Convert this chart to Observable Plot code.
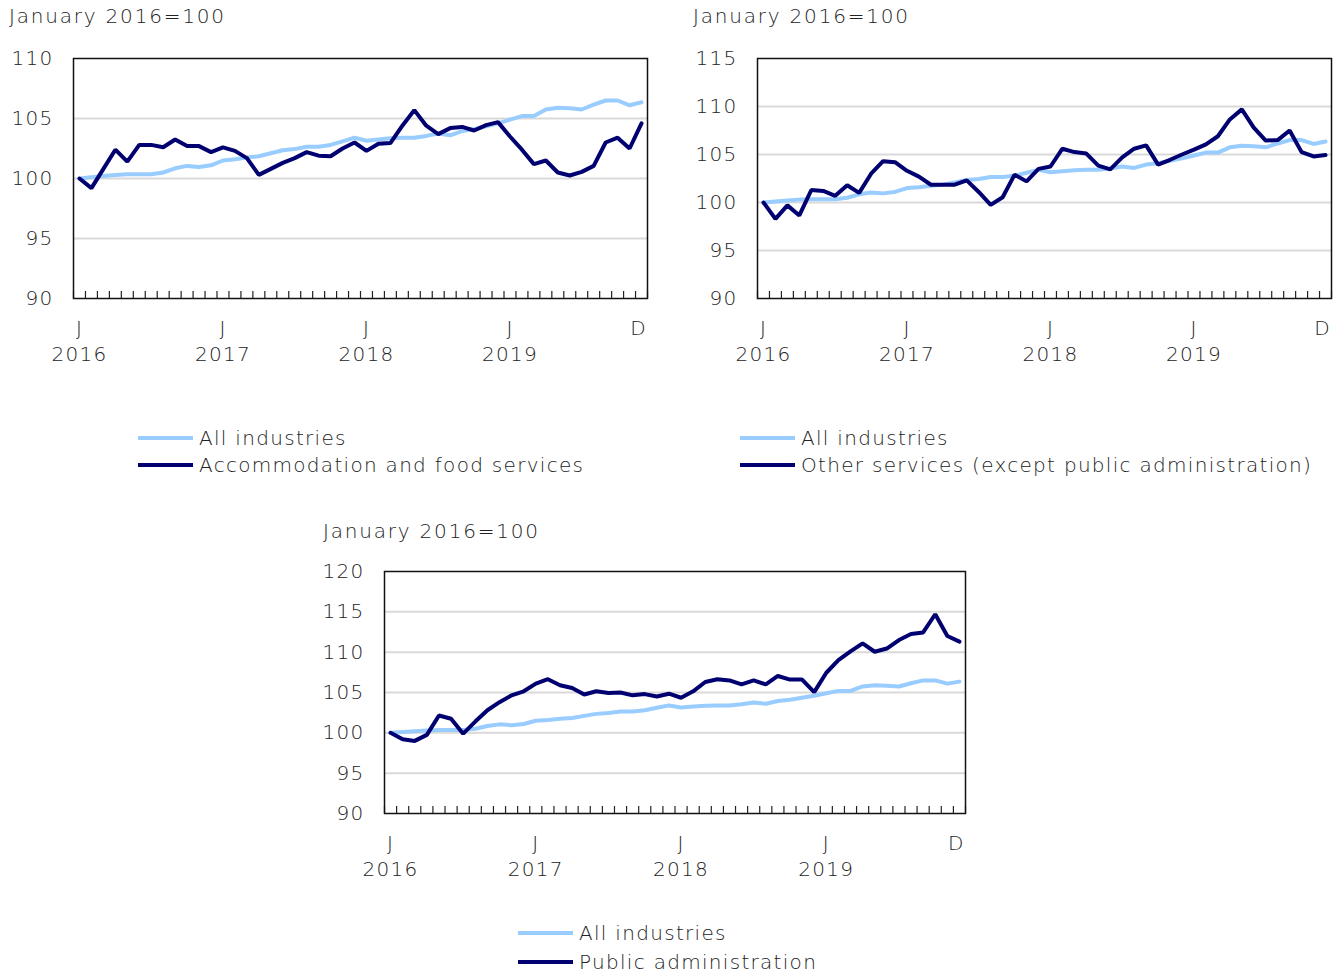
<!DOCTYPE html>
<html>
<head>
<meta charset="utf-8">
<script src="https://cdn.jsdelivr.net/npm/d3@7"></script>
<script src="https://cdn.jsdelivr.net/npm/@observablehq/plot@0.6"></script>
<style>
  html, body { margin: 0; padding: 0; background: #fff; }
  #page { position: relative; width: 1341px; height: 977px; overflow: hidden;
          font-family: "DejaVu Sans", sans-serif; font-weight: 200; color: #222; letter-spacing: 1.3px; }
  .title { position: absolute; font-size: 20px; line-height: 24px; white-space: nowrap; letter-spacing: 1.8px; }
  .chart { position: absolute; }
  .legend { position: absolute; font-size: 20px; white-space: nowrap; }
  .legend .row { display: flex; align-items: center; }
  .legend .sw { display: inline-block; width: 55px; height: 4px; margin-right: 6px; }
</style>
</head>
<body>
<div id="page"></div>
<script>
// ---- Data (monthly, January 2016 to December 2019; January 2016 = 100) ----
const monthIndex = d3.range(48);
const allIndustries = [
  100.0, 100.1, 100.2, 100.3, 100.35, 100.35, 100.35, 100.5, 100.85, 101.05, 100.95, 101.1,
  101.5, 101.6, 101.75, 101.85, 102.1, 102.35, 102.45, 102.65, 102.65, 102.8, 103.1, 103.4,
  103.15, 103.25, 103.35, 103.4, 103.4, 103.55, 103.75, 103.6, 103.95, 104.1, 104.35, 104.6,
  104.9, 105.2, 105.2, 105.75, 105.9, 105.85, 105.75, 106.15, 106.5, 106.5, 106.1, 106.35
];
const accommodation = [
  100.0, 99.2, 100.8, 102.4, 101.4, 102.8, 102.8, 102.6, 103.25, 102.7, 102.7, 102.2,
  102.6, 102.3, 101.7, 100.3, 100.8, 101.3, 101.7, 102.2, 101.9, 101.85, 102.5, 103.0,
  102.3, 102.9, 102.95, 104.4, 105.7, 104.4, 103.7, 104.2, 104.3, 104.0, 104.45, 104.7,
  103.5, 102.4, 101.2, 101.5, 100.5, 100.25, 100.55, 101.05, 103.0, 103.4, 102.5, 104.6
];
const otherServices = [
  100.0, 98.3, 99.7, 98.65, 101.3, 101.2, 100.7, 101.8, 101.0, 103.0, 104.3, 104.2,
  103.3, 102.7, 101.85, 101.85, 101.85, 102.3, 101.1, 99.75, 100.55, 102.9, 102.2, 103.5,
  103.75, 105.6, 105.25, 105.1, 103.85, 103.45, 104.7, 105.6, 105.95, 103.95, 104.45, 105.0,
  105.5, 106.05, 106.9, 108.65, 109.7, 107.8, 106.45, 106.5, 107.5, 105.25, 104.8, 104.95
];
const publicAdmin = [
  100.0, 99.2, 99.0, 99.75, 102.15, 101.75, 99.9, 101.4, 102.8, 103.8, 104.65, 105.15,
  106.1, 106.65, 105.9, 105.55, 104.75, 105.15, 104.95, 105.0, 104.65, 104.8, 104.5, 104.85,
  104.35, 105.15, 106.3, 106.65, 106.5, 106.0, 106.5, 106.0, 107.05, 106.6, 106.6, 105.05,
  107.45, 109.0, 110.1, 111.1, 110.05, 110.45, 111.5, 112.25, 112.45, 114.7, 112.0, 111.3
];
const xTickIndex = [0, 12, 24, 36];
const xTickLabels = ["J\n2016", "J\n2017", "J\n2018", "J\n2019"];
const xEndIndex = [47];
const xEndLabel = "D";
const titleText = "January 2016=100";
const allLabel = "All industries";
const seriesLabels = ["Accommodation and food services", "Other services (except public administration)", "Public administration"];
const yTicks1 = [90, 95, 100, 105, 110];
const yTicks2 = [90, 95, 100, 105, 110, 115];
const yTicks3 = [90, 95, 100, 105, 110, 115, 120];

const LIGHT = "#99ccff";
const DARK = "#000070";
const FONT = '"DejaVu Sans", sans-serif';

const page = document.getElementById("page");
const boundaries = d3.range(49).map(d => d - 0.5);
const tickLabelMap = new Map(xTickIndex.map((d, i) => [d, xTickLabels[i]]));

function makeChart(series, yTicks, dims) {
  const lo = yTicks[0], hi = yTicks[yTicks.length - 1];
  const rowsAll = monthIndex.map(i => ({i, v: allIndustries[i]}));
  const rowsS = monthIndex.map(i => ({i, v: series[i]}));
  return Plot.plot({
    width: dims.width,
    height: dims.height,
    marginLeft: dims.ml,
    marginRight: dims.mr,
    marginTop: dims.mt,
    marginBottom: dims.mb,
    x: {domain: [-0.5, 47.5], axis: null},
    y: {domain: [lo, hi], axis: null},
    style: {fontFamily: FONT, fontSize: "20px", fontWeight: 200, color: "#222", background: "white",
            overflow: "visible", letterSpacing: "1.3px"},
    marks: [
      Plot.gridY(yTicks.slice(1, -1), {stroke: "#d9d9d9", strokeOpacity: 1, strokeWidth: 2}),
      Plot.axisY(yTicks, {tickSize: 0, tickPadding: dims.yPad, fontSize: 20, label: null}),
      Plot.axisX(boundaries, {tickSize: -7, tickFormat: () => "", stroke: "#222", strokeWidth: 1.2, label: null}),
      Plot.axisX(xTickIndex, {tickSize: 0, tickPadding: dims.xPad, fontSize: 20, lineHeight: 1.3, label: null,
                              tickFormat: d => tickLabelMap.get(d)}),
      Plot.axisX(xEndIndex, {tickSize: 0, tickPadding: dims.xPad, fontSize: 20, label: null, dx: -3, dy: 4,
                             tickFormat: () => xEndLabel}),
      Plot.line(rowsAll, {x: "i", y: "v", stroke: LIGHT, strokeWidth: 4, strokeLinejoin: "miter"}),
      Plot.line(rowsS, {x: "i", y: "v", stroke: DARK, strokeWidth: 4, strokeLinejoin: "miter"}),
      Plot.frame({stroke: "#111", strokeWidth: 1.5})
    ]
  });
}

function addPanel(p) {
  const t = document.createElement("div");
  t.className = "title";
  t.style.left = p.titleX + "px";
  t.style.top = p.titleY + "px";
  t.textContent = titleText;
  page.appendChild(t);

  const c = document.createElement("div");
  c.className = "chart";
  c.style.left = p.left + "px";
  c.style.top = p.top + "px";
  c.appendChild(makeChart(p.series, p.yTicks, p.dims));
  page.appendChild(c);

  const lg = document.createElement("div");
  lg.className = "legend";
  lg.style.left = p.legX + "px";
  lg.style.top = p.legY + "px";
  [[LIGHT, allLabel], [DARK, p.label]].forEach(([col, txt]) => {
    const r = document.createElement("div");
    r.className = "row";
    r.style.height = p.legRow + "px";
    const sw = document.createElement("span");
    sw.className = "sw";
    sw.style.background = col;
    const tx = document.createElement("span");
    tx.textContent = txt;
    r.appendChild(sw); r.appendChild(tx);
    lg.appendChild(r);
  });
  page.appendChild(lg);
}

addPanel({
  series: accommodation, label: seriesLabels[0], yTicks: yTicks1,
  titleX: 9, titleY: 4, left: 0, top: 40,
  dims: {width: 660, height: 330, ml: 73, mr: 13, mt: 18, mb: 72, yPad: 20, xPad: 18},
  legX: 138, legY: 424, legRow: 27
});
addPanel({
  series: otherServices, label: seriesLabels[1], yTicks: yTicks2,
  titleX: 693, titleY: 4, left: 680, top: 40,
  dims: {width: 660, height: 330, ml: 77, mr: 9, mt: 18, mb: 72, yPad: 20, xPad: 18},
  legX: 740, legY: 424, legRow: 27
});
addPanel({
  series: publicAdmin, label: seriesLabels[2], yTicks: yTicks3,
  titleX: 323, titleY: 519, left: 300, top: 550,
  dims: {width: 680, height: 330, ml: 84, mr: 15, mt: 21, mb: 67, yPad: 20, xPad: 18},
  legX: 518, legY: 918, legRow: 29
});
</script>
</body>
</html>
